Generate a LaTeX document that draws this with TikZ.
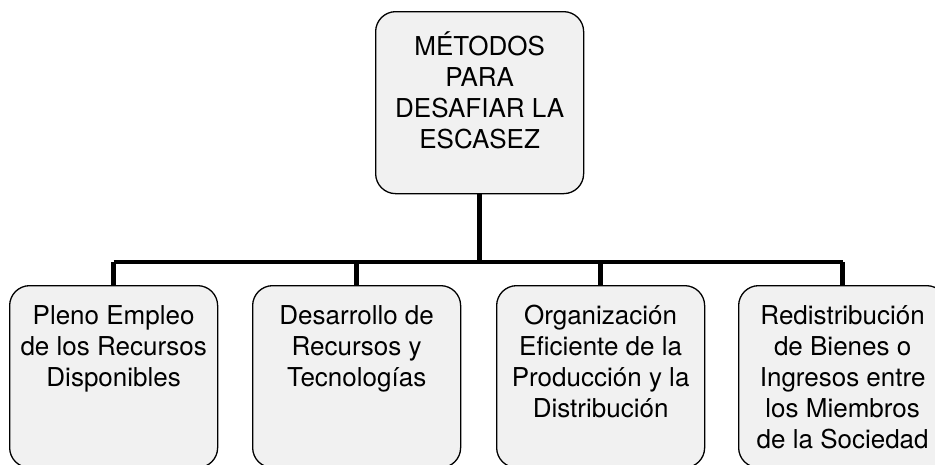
\documentclass[tikz,border=0pt]{standalone}
\usepackage{fontspec}
\setmainfont{TeX Gyre Heros}
\definecolor{boxgray}{HTML}{F1F1F1}
\tikzset{
  box/.style={draw=black, line width=1.3pt, fill=boxgray, rounded corners=20pt,
    minimum width=208pt, minimum height=182pt, inner sep=0pt, anchor=north west},
  txt/.style={align=center, inner sep=0pt, anchor=north,
    font=\fontsize{26}{31}\selectfont},
  conn/.style={draw=black, line width=4.5pt}
}
\begin{document}
\begin{tikzpicture}[x=1pt,y=-1pt]
\useasboundingbox (0,0) rectangle (935,464);
\clip (0,0) rectangle (935,464);
\node[box] (b0) at (375,11) {};
\node[box] (b1) at (9,285) {};
\node[box] (b2) at (252,285) {};
\node[box] (b3) at (496,285) {};
\node[box] (b4) at (738,285) {};
\coordinate (j) at (b0.south |- 0,262);
\draw[conn] (b0.south) -- (j);
\draw[conn] (b1.north |- j) -- (b4.north |- j);
\foreach \b in {b1,b2,b3,b4}{\draw[conn] (\b.north |- j) -- (\b.north);}
\node[txt] (t0) at ([yshift=-20pt]b0.north) {\rule{0pt}{17pt}MÉTODOS\\PARA\\DESAFIAR LA\\ESCASEZ};
\node[txt] (t1) at ([yshift=-20pt]b1.north) {\rule{0pt}{17pt}Pleno Empleo\\de los Recursos\\Disponibles};
\node[txt] (t2) at ([yshift=-20pt]b2.north) {\rule{0pt}{17pt}Desarrollo de\\Recursos y\\Tecnologías};
\node[txt] (t3) at ([yshift=-20pt]b3.north) {\rule{0pt}{17pt}Organización\\Eficiente de la\\Producción y la\\Distribución};
\node[txt] (t4) at ([yshift=-20pt]b4.north) {\rule{0pt}{17pt}Redistribución\\de Bienes o\\Ingresos entre\\los Miembros\\de la Sociedad};
\end{tikzpicture}
\end{document}
